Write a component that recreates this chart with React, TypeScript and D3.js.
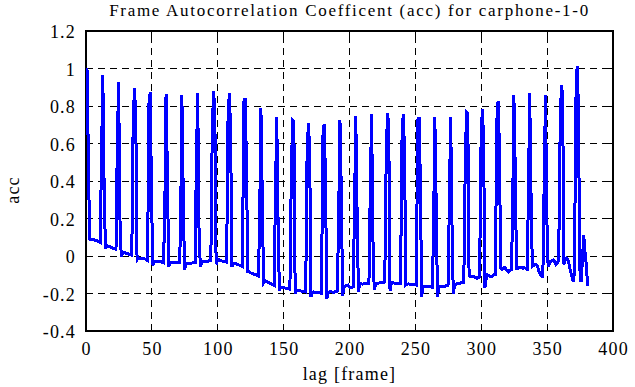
import React from 'react';
import * as d3 from 'd3';

// baseline of the autocorrelation, one value per lag 0..380
const baseline = [
  0.094, 0.092, 0.09, 0.089, 0.088, 0.087, 0.085, 0.083, 0.08, 0.077,
  0.073, 0.07, 0.068, 0.062, 0.04, 0.055, 0.052, 0.05, 0.047, 0.044,
  0.041, 0.039, 0.036, 0.034, 0.03, 0.02, -0.004, 0.018, 0.02, 0.017,
  0.014, 0.012, 0.009, 0.006, 0.004, 0.002, 0.0, -0.01, -0.02, -0.01,
  -0.012, -0.013, -0.014, -0.015, -0.016, -0.02, -0.024, -0.026, -0.027, -0.04,
  -0.05, -0.03, -0.027, -0.028, -0.03, -0.029, -0.03, -0.033, -0.036, -0.038,
  -0.04, -0.045, -0.058, -0.04, -0.034, -0.035, -0.033, -0.034, -0.034, -0.036,
  -0.035, -0.036, -0.04, -0.06, -0.075, -0.045, -0.04, -0.041, -0.038, -0.039,
  -0.037, -0.036, -0.035, -0.034, -0.035, -0.045, -0.058, -0.035, -0.03, -0.03,
  -0.028, -0.029, -0.027, -0.026, -0.025, -0.024, -0.025, -0.035, -0.044, -0.025,
  -0.02, -0.024, -0.026, -0.027, -0.028, -0.03, -0.033, -0.035, -0.036, -0.045,
  -0.057, -0.04, -0.039, -0.041, -0.044, -0.047, -0.05, -0.053, -0.057, -0.06,
  -0.062, -0.07, -0.085, -0.085, -0.089, -0.092, -0.095, -0.097, -0.1, -0.103,
  -0.107, -0.11, -0.112, -0.125, -0.142, -0.13, -0.135, -0.138, -0.141, -0.145,
  -0.149, -0.152, -0.156, -0.16, -0.162, -0.17, -0.185, -0.165, -0.167, -0.169,
  -0.17, -0.172, -0.174, -0.175, -0.177, -0.18, -0.18, -0.19, -0.2, -0.184,
  -0.185, -0.186, -0.186, -0.187, -0.188, -0.19, -0.192, -0.195, -0.196, -0.205,
  -0.217, -0.193, -0.192, -0.194, -0.195, -0.196, -0.196, -0.198, -0.199, -0.2,
  -0.2, -0.21, -0.228, -0.196, -0.192, -0.191, -0.192, -0.193, -0.192, -0.19,
  -0.188, -0.186, -0.185, -0.2, -0.213, -0.17, -0.16, -0.158, -0.155, -0.165,
  -0.17, -0.168, -0.165, -0.172, -0.175, -0.185, -0.19, -0.146, -0.148, -0.15,
  -0.149, -0.148, -0.147, -0.146, -0.145, -0.146, -0.146, -0.16, -0.18, -0.15,
  -0.146, -0.145, -0.143, -0.142, -0.142, -0.14, -0.139, -0.139, -0.14, -0.16,
  -0.185, -0.145, -0.142, -0.144, -0.145, -0.146, -0.146, -0.148, -0.147, -0.148,
  -0.15, -0.152, -0.155, -0.15, -0.149, -0.15, -0.151, -0.152, -0.153, -0.154,
  -0.155, -0.156, -0.16, -0.19, -0.22, -0.165, -0.16, -0.161, -0.162, -0.163,
  -0.164, -0.165, -0.166, -0.166, -0.168, -0.19, -0.22, -0.17, -0.164, -0.163,
  -0.162, -0.16, -0.16, -0.158, -0.158, -0.16, -0.162, -0.18, -0.2, -0.16,
  -0.15, -0.148, -0.146, -0.145, -0.143, -0.142, -0.14, -0.13, -0.12, -0.11,
  -0.107, -0.11, -0.108, -0.112, -0.11, -0.115, -0.12, -0.115, -0.11, -0.12,
  -0.14, -0.16, -0.17, -0.12, -0.1, -0.105, -0.112, -0.11, -0.104, -0.1,
  -0.1, -0.09, -0.08, -0.07, -0.066, -0.07, -0.064, -0.062, -0.07, -0.078,
  -0.084, -0.075, -0.072, -0.07, -0.068, -0.067, -0.066, -0.068, -0.063, -0.062,
  -0.06, -0.065, -0.062, -0.066, -0.07, -0.075, -0.08, -0.07, -0.056, -0.05,
  -0.044, -0.048, -0.056, -0.08, -0.1, -0.108, -0.11, -0.1, -0.09, -0.08,
  -0.057, -0.04, -0.027, -0.024, -0.021, -0.03, -0.044, -0.035, -0.027, -0.025,
  -0.022, -0.03, -0.045, -0.02, -0.012, -0.02, -0.048, -0.08, -0.11, -0.137,
  -0.09, -0.08, -0.07, -0.09, -0.066, -0.14, -0.03, 0.11, 0.023, -0.05,
  -0.158,
];

// periodic peaks every 12 frames: value just before, at, and just after the peak
const spikeLags = [0, 12, 24, 36, 48, 60, 72, 84, 96, 108, 120, 132, 144, 156, 168, 180, 192, 204, 216, 228, 240, 252, 264, 276, 288, 300, 312, 324, 336, 348, 360, 372];
const spikePre = [null, 0.51, 0.59, 0.69, 0.81, 0.2, 0.1, 0.48, 0.62, 0.715, 0.823, 0.15, 0.3, 0.384, 0.512, 0.636, 0.2, 0.219, 0.347, 0.466, 0.6, 0.725, 0.1, 0.263, 0.428, 0.565, 0.709, 0.174, 0.288, 0.397, 0.6, 0.81];
const spikePeak = [1.0, 0.965, 0.93, 0.896, 0.876, 0.864, 0.859, 0.869, 0.882, 0.869, 0.843, 0.791, 0.741, 0.722, 0.708, 0.704, 0.725, 0.747, 0.757, 0.763, 0.757, 0.741, 0.741, 0.741, 0.768, 0.782, 0.827, 0.859, 0.869, 0.859, 0.912, 1.013];
const spikePost = [0.54, 0.36, 0.2, 0.757, 0.3, 0.45, 0.352, 0.15, 0.786, 0.672, 0.517, 0.336, 0.2, 0.715, 0.571, 0.428, 0.352, 0.236, 0.1, 0.708, 0.565, 0.418, 0.299, 0.187, 0.763, 0.64, 0.587, 0.476, 0.34, 0.206, 0.859, 0.796];

const xTicks = [0, 50, 100, 150, 200, 250, 300, 350, 400];
const yTicks = [-0.4, -0.2, 0, 0.2, 0.4, 0.6, 0.8, 1, 1.2];
const yTickLabels = ['-0.4', '-0.2', '0', '0.2', '0.4', '0.6', '0.8', '1', '1.2'];

const W = 635, H = 387;
const margin = { top: 31, right: 22, bottom: 56, left: 86 };

function App() {
  const width = W - margin.left - margin.right;
  const height = H - margin.top - margin.bottom;
  const x = d3.scaleLinear().domain([0, 400]).range([margin.left, margin.left + width]);
  const y = d3.scaleLinear().domain([-0.4, 1.2]).range([margin.top + height, margin.top]);

  // put the spikes on top of the baseline
  const acc = baseline.slice();
  spikeLags.forEach((lag, i) => {
    if (spikePre[i] !== null && lag - 1 >= 0) acc[lag - 1] = spikePre[i] as number;
    acc[lag] = spikePeak[i];
    if (lag + 1 < acc.length) acc[lag + 1] = spikePost[i];
  });

  const line = d3.line<number>()
    .x((d, i) => x(i) + 1)
    .y(d => y(d));

  const txt = {
    fontFamily: '"Liberation Serif", "Times New Roman", serif',
    fontSize: '18px',
    letterSpacing: '1.2px',
  };
  const titleTxt = { ...txt, fontSize: '17px', letterSpacing: '1.7px' };
  const x0 = x(0), x1 = x(400), y0 = y(-0.4), y1 = y(1.2);

  return (
    <svg width={W} height={H} style={{ position: 'absolute', left: 0, top: 0, background: '#fff' }}>
      <rect x={0} y={0} width={W} height={H} fill="#fff" />
      {/* grid */}
      <g shapeRendering="crispEdges">
        {xTicks.filter(t => t > 0 && t < 400).map(t => (
          <line key={'gx' + t} x1={x(t)} x2={x(t)} y1={y0} y2={y1} stroke="#000" strokeWidth={1} strokeDasharray="7,5" />
        ))}
        {yTicks.filter(t => t > -0.4 && t < 1.2).map(t => (
          <line key={'gy' + t} x1={x0} x2={x1} y1={y(t)} y2={y(t)} stroke="#000" strokeWidth={1} strokeDasharray="7,5" />
        ))}
        {/* inward tick marks */}
        {xTicks.map(t => (
          <g key={'tx' + t}>
            <line x1={x(t)} x2={x(t)} y1={y0} y2={y0 - 6} stroke="#000" strokeWidth={1} />
            <line x1={x(t)} x2={x(t)} y1={y1} y2={y1 + 6} stroke="#000" strokeWidth={1} />
          </g>
        ))}
        {yTicks.map(t => (
          <g key={'ty' + t}>
            <line x1={x0} x2={x0 + 6} y1={y(t)} y2={y(t)} stroke="#000" strokeWidth={1} />
            <line x1={x1} x2={x1 - 6} y1={y(t)} y2={y(t)} stroke="#000" strokeWidth={1} />
          </g>
        ))}
      </g>
      {/* frame */}
      <rect x={x0} y={y1} width={x1 - x0} height={y0 - y1} fill="none" stroke="#000" strokeWidth={2} shapeRendering="crispEdges" />
      {/* data */}
      <path d={line(acc) || ''} fill="none" stroke="#0000ff" strokeWidth={3} strokeLinejoin="miter" shapeRendering="crispEdges" />
      {/* tick labels */}
      {xTicks.map(t => (
        <text key={'lx' + t} x={x(t) + 0.6} y={y0 + 24} textAnchor="middle" style={txt}>{t}</text>
      ))}
      {yTicks.map((t, i) => (
        <text key={'ly' + t} x={76} y={y(t) + 7} textAnchor="end" style={txt}>{yTickLabels[i]}</text>
      ))}
      {/* titles */}
      <text x={(x0 + x1) / 2} y={16} textAnchor="middle" style={titleTxt}>Frame Autocorrelation Coefficent (acc) for carphone-1-0</text>
      <text x={(x0 + x1) / 2} y={380} textAnchor="middle" style={txt}>lag [frame]</text>
      <text transform={`translate(19,190) rotate(-90)`} textAnchor="middle" style={txt}>acc</text>
    </svg>
  );
}

export default App;
